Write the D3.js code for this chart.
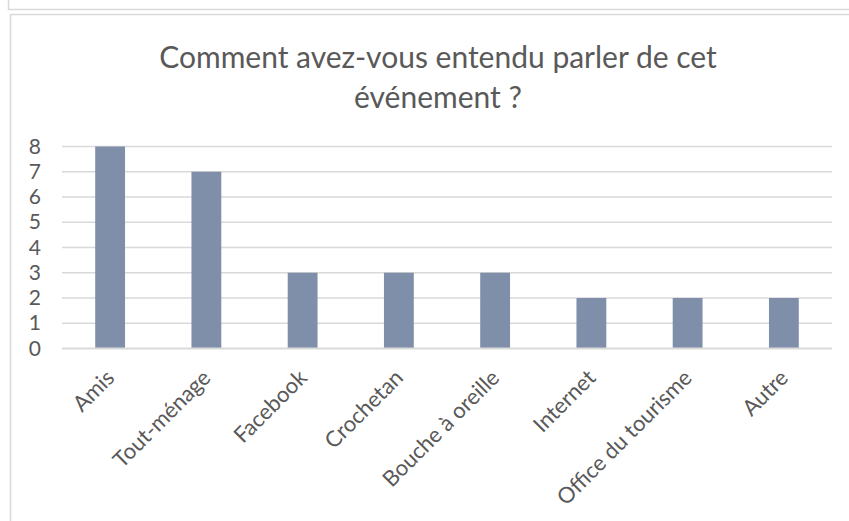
<!DOCTYPE html>
<html lang="fr">
<head>
<meta charset="utf-8">
<script src="https://cdn.jsdelivr.net/npm/d3@7"></script>
<style>
  html, body { margin: 0; padding: 0; background: #fff; }
  svg { display: block; font-family: Lato, "Open Sans", sans-serif; }
</style>
</head>
<body>
<div id="chart"></div>
<script>
// Données du graphique
const categories = ["Amis", "Tout-ménage", "Facebook", "Crochetan", "Bouche à oreille", "Internet", "Office du tourisme", "Autre"];
const counts = [8, 7, 3, 3, 3, 2, 2, 2];
const yTicks = [0, 1, 2, 3, 4, 5, 6, 7, 8];
const titleLines = ["Comment avez-vous entendu parler de cet", "événement ?"];

function drawChart(containerId) {
    const W = 849, H = 521;
    const margin = {top: 146.5, right: 17, bottom: 172.5, left: 62};
    const width = W - margin.left - margin.right;
    const height = H - margin.top - margin.bottom;

    d3.select(containerId).html("");

    const root = d3.select(containerId)
        .append("svg")
        .attr("width", W)
        .attr("height", H);

    // Cadres gris (fenêtre au-dessus et zone du graphique)
    root.append("path")
        .attr("d", "M8.5,0 V9.5 H849")
        .attr("fill", "none")
        .attr("stroke", "#d9d9d9")
        .attr("stroke-width", 1.5);
    root.append("path")
        .attr("d", "M10.5,521 V14.5 H849")
        .attr("fill", "none")
        .attr("stroke", "#d9d9d9")
        .attr("stroke-width", 1.5);

    // Titre
    root.append("text")
        .attr("text-anchor", "middle")
        .attr("fill", "#595959")
        .style("font-size", "30px")
        .selectAll("tspan")
        .data(titleLines)
        .enter()
        .append("tspan")
        .attr("x", 438)
        .attr("y", (d, i) => 68 + i * 40)
        .text(d => d);

    const svg = root.append("g")
        .attr("transform", `translate(${margin.left},${margin.top})`);

    // Échelles
    const xScale = d3.scaleBand()
        .domain(categories)
        .range([0, width])
        .paddingInner(0.69)
        .paddingOuter(0.345);

    const yScale = d3.scaleLinear()
        .domain([0, 8])
        .range([height, 0]);

    // Lignes de grille
    svg.append("g")
        .selectAll("line")
        .data(yTicks.filter(t => t > 0))
        .enter()
        .append("line")
        .attr("x1", 0)
        .attr("x2", width)
        .attr("y1", d => yScale(d))
        .attr("y2", d => yScale(d))
        .attr("stroke", "#d9d9d9")
        .attr("stroke-width", 1.5);

    // Barres
    svg.selectAll("rect.bar")
        .data(counts)
        .enter()
        .append("rect")
        .attr("class", "bar")
        .attr("x", (d, i) => xScale(categories[i]))
        .attr("y", d => yScale(d))
        .attr("width", xScale.bandwidth())
        .attr("height", d => height - yScale(d))
        .attr("fill", "#7f8fa9");

    // Axe des abscisses
    svg.append("line")
        .attr("x1", 0)
        .attr("x2", width)
        .attr("y1", height)
        .attr("y2", height)
        .attr("stroke", "#d9d9d9")
        .attr("stroke-width", 2);

    // Axe Y (étiquettes seulement)
    const yAxis = svg.append("g")
        .call(d3.axisLeft(yScale).tickValues(yTicks).tickSize(0).tickPadding(21).tickFormat(d3.format("d")));
    yAxis.select(".domain").remove();
    yAxis.selectAll("text")
        .attr("fill", "#595959")
        .style("font-size", "21px")
        .style("font-family", "Lato, 'Open Sans', sans-serif");

    // Étiquettes des catégories, tournées à -45°
    svg.append("g")
        .selectAll("text")
        .data(categories)
        .enter()
        .append("text")
        .attr("transform", d => `translate(${xScale(d) + xScale.bandwidth() / 2 - 6},${height + 19}) rotate(-45)`)
        .attr("text-anchor", "end")
        .attr("dy", "0.75em")
        .attr("fill", "#595959")
        .style("font-size", "22px")
        .text(d => d);
}

drawChart("#chart");
</script>
</body>
</html>
